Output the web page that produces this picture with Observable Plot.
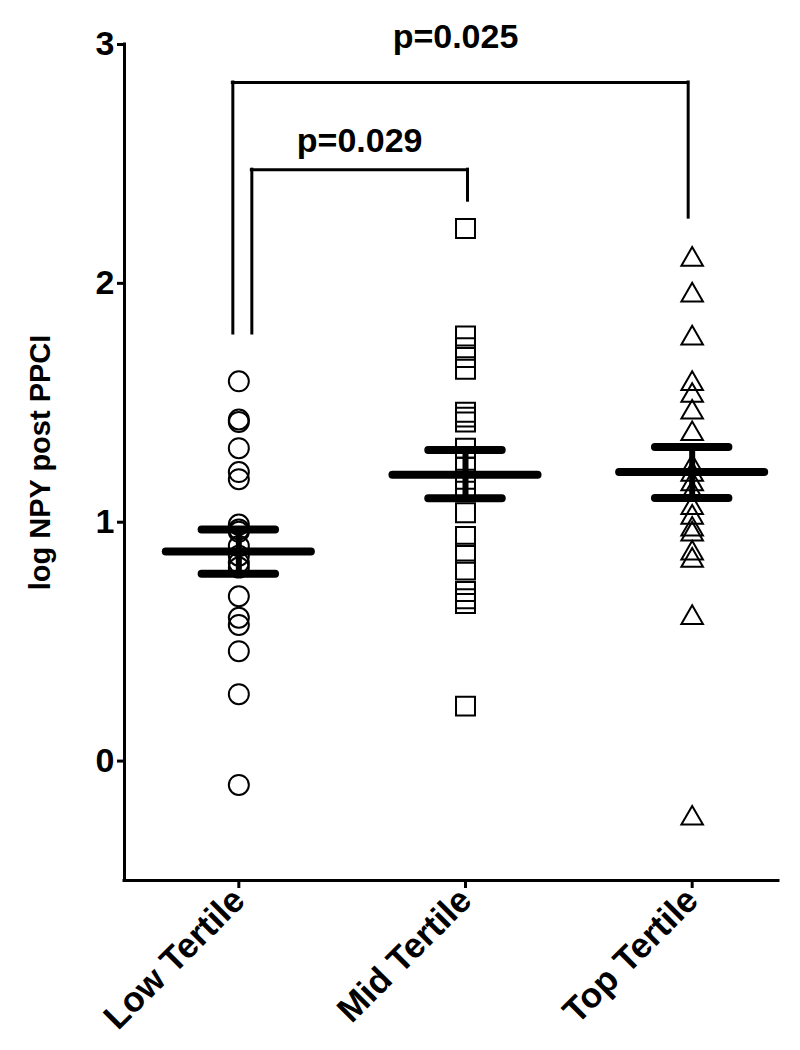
<!DOCTYPE html>
<html>
<head>
<meta charset="utf-8">
<script src="https://cdn.jsdelivr.net/npm/d3@7"></script>
<script src="https://cdn.jsdelivr.net/npm/@observablehq/plot@0.6"></script>
<style>
  body { margin: 0; background: #fff; }
</style>
</head>
<body>
<div id="chart"></div>
<script>
// ---- data ----
const categories = ["Low Tertile", "Mid Tertile", "Top Tertile"];
const lowValues = [1.59, 1.43, 1.42, 1.31, 1.21, 1.18, 0.99, 0.97, 0.96, 0.90, 0.86, 0.83, 0.81, 0.69, 0.60, 0.57, 0.46, 0.28, -0.10];
const midValues = [2.23, 1.78, 1.73, 1.69, 1.64, 1.46, 1.44, 1.42, 1.31, 1.23, 1.18, 1.13, 1.04, 0.94, 0.87, 0.80, 0.71, 0.68, 0.66, 0.23];
const topValues = [2.10, 1.95, 1.77, 1.58, 1.53, 1.46, 1.37, 1.23, 1.20, 1.16, 1.12, 1.06, 1.02, 0.97, 0.95, 0.87, 0.84, 0.60, -0.24];
const means = [0.877, 1.199, 1.21];
const semLow = [0.784, 1.100, 1.101];
const semHigh = [0.969, 1.302, 1.315];
const yTicks = [0, 1, 2, 3];
const yLabel = "log NPY post PPCI";
const bracketFrom = ["Low Tertile", "Low Tertile"];
const bracketTo = ["Mid Tertile", "Top Tertile"];
const bracketTop = [2.476, 2.841];
const bracketLeftEnd = [1.79, 1.79];
const bracketRightEnd = [2.346, 2.275];
const bracketLabelY = [2.548, 2.985];
const bracketLabels = ["p=0.029", "p=0.025"];

// ---- tables built from the arrays ----
const seriesValues = [lowValues, midValues, topValues];
const symbols = ["circle", "square", "triangle"];
const symbolR = [10, 10.7, 8];
const summary = categories.map((c, i) => ({i, mean: means[i], lo: semLow[i], hi: semHigh[i]}));
const brackets = bracketLabels.map((label, k) => ({
  from: categories.indexOf(bracketFrom[k]),
  to: categories.indexOf(bracketTo[k]),
  top: bracketTop[k],
  leftEnd: bracketLeftEnd[k],
  rightEnd: bracketRightEnd[k],
  labelY: bracketLabelY[k],
  label
}));
// pixel offsets of bracket legs (style)
const legOffsets = [{left: 13, right: 2}, {left: -6, right: -4}];

const meanHalf = 0.32;  // half-length of mean bar (x units)
const semHalf = 0.162;  // half-length of SEM bars

const dotMarks = seriesValues.map((vals, i) =>
  Plot.dot(vals.map(v => ({i, v})), {
    x: "i", y: "v", symbol: symbols[i], r: symbolR[i],
    stroke: "black", strokeWidth: 2, fill: "none"
  })
);

const bracketMarks = brackets.flatMap((b, k) => {
  const o = legOffsets[k];
  return [
    Plot.ruleX([b], {x: "from", y1: "leftEnd", y2: "top", dx: o.left, stroke: "black", strokeWidth: 3, strokeLinecap: "square"}),
    Plot.ruleX([b], {x: "to", y1: "top", y2: "rightEnd", dx: o.right, stroke: "black", strokeWidth: 3, strokeLinecap: "square"}),
    Plot.ruleY([b], {y: "top", x1: "from", x2: "to", insetLeft: o.left, insetRight: -o.right, stroke: "black", strokeWidth: 3, strokeLinecap: "square"}),
    Plot.text([b], {x: d => (d.from + d.to) / 2, y: "labelY", text: "label", dx: (o.left + o.right) / 2 - (k === 1 ? 5 : 0), lineAnchor: "bottom", textAnchor: "middle", fontSize: 34, fill: "black"})
  ];
});

const chart = Plot.plot({
  width: 800,
  height: 1050,
  marginLeft: 124,
  marginRight: 22,
  marginTop: 44,
  marginBottom: 170,
  style: {
    fontFamily: "'Liberation Sans', Arial, Helvetica, sans-serif",
    fontWeight: "bold",
    color: "black",
    background: "white",
    overflow: "visible"
  },
  x: {type: "linear", domain: [-0.5, 2.5], range: [125, 805]},
  y: {domain: [-0.5, 3]},
  marks: [
    ...dotMarks,
    Plot.ruleX(summary, {x: "i", y1: "lo", y2: "hi", stroke: "black", strokeWidth: 6}),
    Plot.ruleY(summary, {y: "mean", x1: d => d.i - meanHalf, x2: d => d.i + meanHalf, stroke: "black", strokeWidth: 8, strokeLinecap: "round"}),
    Plot.ruleY(summary, {y: "lo", x1: d => d.i - semHalf, x2: d => d.i + semHalf, stroke: "black", strokeWidth: 8, strokeLinecap: "round"}),
    Plot.ruleY(summary, {y: "hi", x1: d => d.i - semHalf, x2: d => d.i + semHalf, stroke: "black", strokeWidth: 8, strokeLinecap: "round"}),
    ...bracketMarks,
    Plot.axisY(yTicks, {tickSize: 7, tickPadding: 3, fontSize: 34, strokeWidth: 3, label: null, tickFormat: d => String(d)}),
    Plot.axisX([0, 1, 2], {tickSize: 8, tickPadding: 6, tickRotate: -45, fontSize: 35, strokeWidth: 3, label: null, tickFormat: i => categories[i]}),
    Plot.ruleY([-0.5], {stroke: "black", strokeWidth: 3, strokeLinecap: "square"}),
    Plot.ruleX([-0.5], {dx: -1, stroke: "black", strokeWidth: 3, strokeLinecap: "square"}),
    Plot.text([yLabel], {frameAnchor: "left", dx: -84, rotate: -90, textAnchor: "middle", fontSize: 29, fill: "black"})
  ]
});
document.getElementById("chart").appendChild(chart);
</script>
</body>
</html>
